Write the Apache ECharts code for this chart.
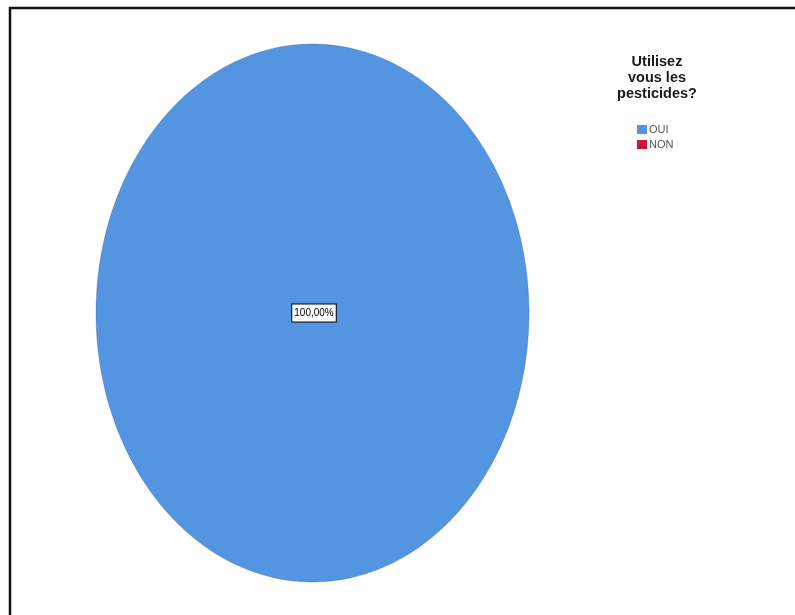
<!DOCTYPE html>
<html>
<head>
<meta charset="utf-8">
<title>Utilisez vous les pesticides?</title>
<script src="https://cdn.jsdelivr.net/npm/echarts@6/dist/echarts.min.js"></script>
<style>
  html, body { margin: 0; padding: 0; background: #ffffff; }
  #chart { width: 795px; height: 615px; }
</style>
</head>
<body>
<div id="chart"></div>
<script>
// Answers and their counts (percent of respondents)
const categories = ['OUI', 'NON'];
const values = [100, 0];
const legendTitle = 'Utilisez\nvous les\npesticides?';
const palette = ['#5495e2', '#c8183c'];

// Elliptical pie frame
const PIE = { cx: 312.5, cy: 313, rx: 216.5, ry: 269 };

const total = values.reduce((a, b) => a + b, 0);
const offsets = values.map((v, i) => values.slice(0, i).reduce((a, b) => a + b, 0));

function fmtPct(share) {
  return (share * 100).toFixed(2).replace('.', ',') + '%';
}

function makeRender(idx) {
  return function (params, api) {
    const v = api.value(0);
    if (!v) return null;
    const share = v / total;
    const start = -Math.PI / 2 + (offsets[idx] / total) * Math.PI * 2;
    const sweep = share * Math.PI * 2;
    const steps = Math.max(8, Math.ceil(360 * share));
    const pts = [];
    if (share < 1) pts.push([PIE.cx, PIE.cy]);
    for (let k = 0; k <= steps; k++) {
      const a = start + sweep * k / steps;
      pts.push([PIE.cx + PIE.rx * Math.cos(a), PIE.cy + PIE.ry * Math.sin(a)]);
    }
    let lx = PIE.cx, ly = PIE.cy;
    if (share < 1) {
      const mid = start + sweep / 2;
      lx = PIE.cx + PIE.rx * 0.6 * Math.cos(mid);
      ly = PIE.cy + PIE.ry * 0.6 * Math.sin(mid);
    }
    return {
      type: 'group',
      children: [
        {
          type: 'polygon',
          shape: { points: pts },
          style: { fill: api.visual('color'), stroke: 'rgba(40,70,140,0.35)', lineWidth: 0.8 }
        },
        {
          type: 'text',
          z2: 10,
          style: {
            text: fmtPct(share),
            x: lx + 1.5,
            y: ly,
            align: 'center',
            verticalAlign: 'middle',
            fill: '#000000',
            font: '10px "Liberation Sans", Arial, sans-serif',
            backgroundColor: '#ffffff',
            borderColor: '#000000',
            borderWidth: 1,
            padding: [4, 2, 3, 2]
          }
        }
      ]
    };
  };
}

const chart = echarts.init(document.getElementById('chart'), null, { renderer: 'canvas' });

chart.setOption({
  animation: false,
  backgroundColor: '#ffffff',
  color: palette,
  title: {
    text: legendTitle,
    left: 657,
    top: 54,
    textAlign: 'center',
    padding: 0,
    textStyle: {
      fontFamily: '"Liberation Sans", Arial, sans-serif',
      fontWeight: 'bold',
      fontSize: 14.5,
      lineHeight: 16,
      color: '#1a1a1a'
    }
  },
  legend: {
    data: categories,
    orient: 'vertical',
    left: 637,
    top: 124,
    padding: 0,
    itemGap: 4,
    itemWidth: 10,
    itemHeight: 9,
    icon: 'rect',
    textStyle: {
      fontFamily: '"Liberation Sans", Arial, sans-serif',
      fontSize: 11,
      color: '#555555',
      padding: [0, 0, 0, -3]
    },
    selectedMode: false
  },
  graphic: [
    {
      type: 'rect',
      silent: true,
      shape: { x: 10, y: 8, width: 820, height: 700 },
      style: { fill: 'none', stroke: '#111111', lineWidth: 2.5 }
    }
  ],
  series: categories.map((name, i) => ({
    type: 'custom',
    name: name,
    coordinateSystem: 'none',
    renderItem: makeRender(i),
    data: [[values[i]]]
  }))
});
</script>
</body>
</html>
